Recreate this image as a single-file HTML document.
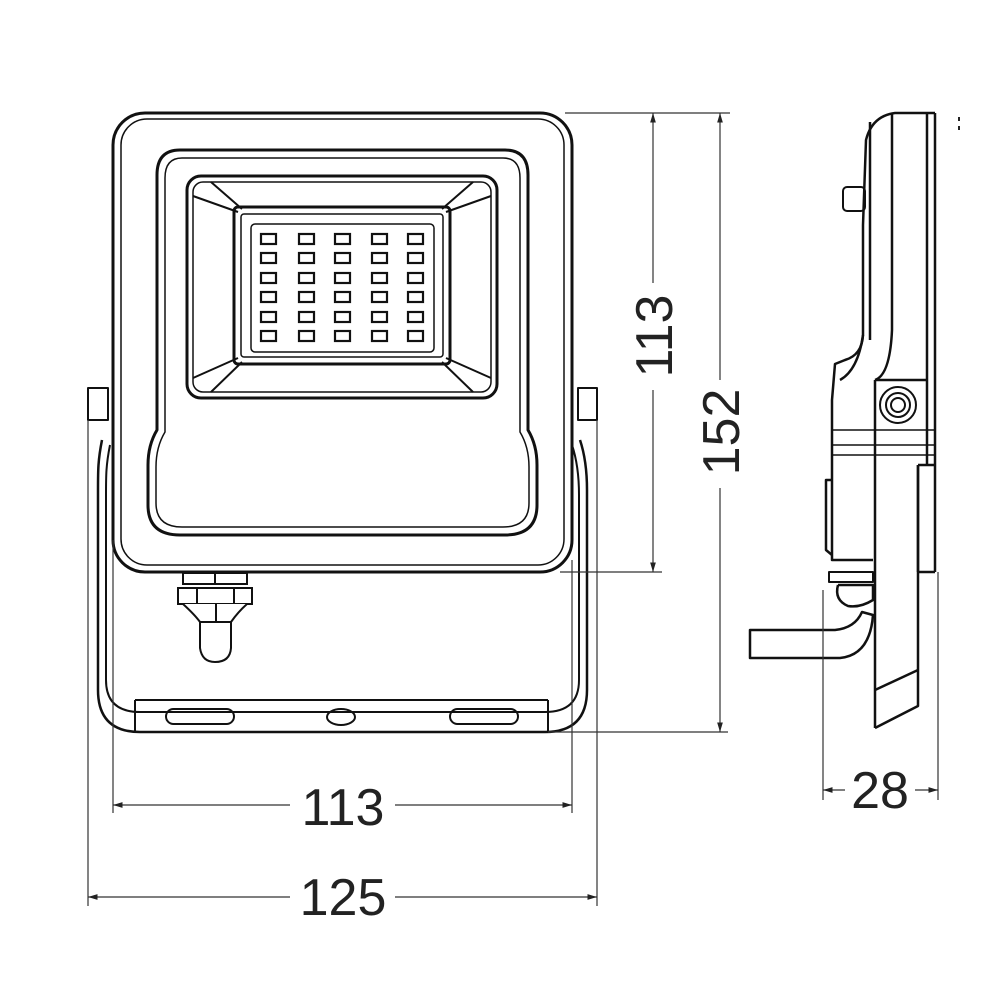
<!DOCTYPE html>
<html><head><meta charset="utf-8"><style>
html,body{margin:0;padding:0;background:#fff}
svg{display:block}
text{font-family:"Liberation Sans",sans-serif;fill:#222}
</style></head><body>
<svg width="1000" height="1000" viewBox="0 0 1000 1000" xmlns="http://www.w3.org/2000/svg">
<defs>
<marker id="a" viewBox="0 0 10 10" refX="10" refY="5" markerWidth="8" markerHeight="8" orient="auto-start-reverse"><path d="M0,2 L10,5 L0,8z" fill="#222"/></marker>
</defs>
<g fill="none" stroke="#111" stroke-width="3" stroke-linejoin="round">
<!-- bracket -->
<path d="M102,440 C98,460 98,470 98,490 L98,690 Q98,732 140,732 L545,732 Q587,732 587,690 L587,490 C587,470 585,455 580,440" stroke-width="2.5"/>
<path d="M110,445 C106,465 106,475 106,495 L106,680 Q106,712 140,712 L545,712 Q579,712 579,680 L579,495 C579,475 577,460 572,445" stroke-width="2"/>
<line x1="135" y1="700" x2="548" y2="700" stroke-width="2"/>
<line x1="135" y1="700" x2="135" y2="732" stroke-width="2"/>
<line x1="548" y1="700" x2="548" y2="732" stroke-width="2"/>
<rect x="166" y="709" width="68" height="15" rx="7.5" stroke-width="2"/>
<rect x="450" y="709" width="68" height="15" rx="7.5" stroke-width="2"/>
<ellipse cx="341" cy="717" rx="14" ry="8" stroke-width="2"/>
<rect x="88" y="388" width="20" height="32" stroke-width="2"/>
<rect x="578" y="388" width="19" height="32" stroke-width="2"/>
<!-- housing -->
<rect x="113" y="113" width="459" height="459" rx="32"/>
<rect x="121" y="119" width="443" height="446" rx="26" stroke-width="1.5"/>
<path d="M180,150 L505,150 Q528,150 528,175 L528,430 Q537,445 537,465 L537,505 Q537,535 505,535 L180,535 Q148,535 148,505 L148,465 Q148,445 157,430 L157,175 Q157,150 180,150Z"/>
<path d="M182,158 L503,158 Q520,158 520,178 L520,432 Q529,447 529,467 L529,503 Q529,527 503,527 L182,527 Q156,527 156,503 L156,467 Q156,447 165,432 L165,178 Q165,158 182,158Z" stroke-width="1.5"/>
<!-- lens -->
<rect x="187" y="176" width="310" height="222" rx="14"/>
<rect x="193" y="182" width="298" height="210" rx="10" stroke-width="1.5"/>
<rect x="234" y="207" width="216" height="157" rx="4"/>
<rect x="241" y="214" width="202" height="143" rx="3" stroke-width="1.5"/>
<rect x="251" y="224" width="183" height="128" rx="4" stroke-width="1.5"/>
<line x1="193" y1="196" x2="238" y2="212" stroke-width="2"/>
<line x1="211" y1="182" x2="242" y2="209" stroke-width="2"/>
<line x1="491" y1="196" x2="446" y2="212" stroke-width="2"/>
<line x1="473" y1="182" x2="442" y2="209" stroke-width="2"/>
<line x1="193" y1="378" x2="238" y2="358" stroke-width="2"/>
<line x1="211" y1="392" x2="242" y2="362" stroke-width="2"/>
<line x1="491" y1="378" x2="446" y2="358" stroke-width="2"/>
<line x1="473" y1="392" x2="442" y2="362" stroke-width="2"/>
</g>
<g fill="none" stroke="#111" stroke-width="2.2">
<g id="r">
<rect x="261" y="234" width="15" height="10"/><rect x="299" y="234" width="15" height="10"/><rect x="335" y="234" width="15" height="10"/><rect x="372" y="234" width="15" height="10"/><rect x="408" y="234" width="15" height="10"/>
</g>
<use href="#r" y="19"/><use href="#r" y="39"/><use href="#r" y="58"/><use href="#r" y="78"/><use href="#r" y="97"/>
</g>
<!-- gland -->
<g fill="#fff" stroke="#111" stroke-width="2">
<rect x="183" y="573" width="64" height="11"/>
<line x1="215" y1="573" x2="215" y2="584"/>
<rect x="178" y="588" width="74" height="16"/>
<line x1="197" y1="588" x2="197" y2="604"/><line x1="234" y1="588" x2="234" y2="604"/>
<path d="M183,604 Q195,615 200,622 L200,648 Q202,662 215,662 Q230,662 231,648 L231,622 Q238,612 247,604"/>
<line x1="216" y1="604" x2="216" y2="622"/>
<line x1="200" y1="622" x2="231" y2="622"/>
</g>
<!-- side view -->
<g fill="none" stroke="#111" stroke-width="2.5" stroke-linejoin="round">
<path d="M935,113 L895,113 Q872,116 866,140 L863,225 L863,335 Q862,355 845,360 L835,364 L832,400 L832,560 L873,560"/>
<line x1="935" y1="113" x2="935" y2="572"/>
<line x1="927" y1="113" x2="927" y2="465"/>
<line x1="892" y1="113" x2="892" y2="330"/>
<line x1="870" y1="122" x2="870" y2="340"/>
<path d="M892,330 Q890,375 875,380"/>
<path d="M863,335 Q858,370 840,380"/>
<line x1="875" y1="380" x2="927" y2="380"/>
<rect x="843" y="187" width="22" height="24" rx="4" stroke-width="2"/>
<circle cx="898" cy="405" r="18" stroke-width="2"/>
<circle cx="898" cy="405" r="12" stroke-width="2"/>
<circle cx="898" cy="405" r="7" stroke-width="2"/>
<line x1="875" y1="380" x2="875" y2="728"/>
<path d="M875,728 L918,706 L918,465"/>
<line x1="875" y1="690" x2="918" y2="670"/>
<line x1="832" y1="430" x2="935" y2="430" stroke-width="1.5"/>
<line x1="832" y1="445" x2="935" y2="445" stroke-width="1.5"/>
<line x1="832" y1="455" x2="935" y2="455" stroke-width="1.5"/>
<line x1="918" y1="465" x2="935" y2="465"/>
<line x1="918" y1="465" x2="918" y2="572"/>
<line x1="918" y1="572" x2="935" y2="572"/>
<path d="M832,480 L826,480 L826,550 L832,555"/>
<rect x="829" y="572" width="44" height="10" stroke-width="2"/>
<path d="M838,585 L873,585 L873,600 Q860,608 848,606 Q834,600 838,585"/>
<path d="M750,630 L835,630 Q855,628 862,612 L873,615 Q870,655 840,658 L750,658 Z" fill="#fff"/>
</g>
<rect x="958" y="117" width="2" height="4" fill="#222"/><rect x="958" y="126" width="2" height="4" fill="#222"/>
<!-- dimension lines -->
<g stroke="#333" stroke-width="1.2" fill="none">
<line x1="565" y1="113" x2="730" y2="113"/>
<line x1="560" y1="572" x2="662" y2="572"/>
<line x1="548" y1="732" x2="728" y2="732"/>
<line x1="88" y1="420" x2="88" y2="906"/>
<line x1="113" y1="540" x2="113" y2="813"/>
<line x1="572" y1="560" x2="572" y2="813"/>
<line x1="597" y1="420" x2="597" y2="906"/>
<line x1="823" y1="590" x2="823" y2="800"/>
<line x1="938" y1="572" x2="938" y2="800"/>
<line x1="653" y1="113" x2="653" y2="283" marker-start="url(#a)"/>
<line x1="653" y1="390" x2="653" y2="572" marker-end="url(#a)"/>
<line x1="720" y1="113" x2="720" y2="380" marker-start="url(#a)"/>
<line x1="720" y1="488" x2="720" y2="732" marker-end="url(#a)"/>
<line x1="113" y1="805" x2="290" y2="805" marker-start="url(#a)"/>
<line x1="395" y1="805" x2="572" y2="805" marker-end="url(#a)"/>
<line x1="88" y1="897" x2="290" y2="897" marker-start="url(#a)"/>
<line x1="395" y1="897" x2="597" y2="897" marker-end="url(#a)"/>
<line x1="823" y1="790" x2="845" y2="790" marker-start="url(#a)"/>
<line x1="915" y1="790" x2="938" y2="790" marker-end="url(#a)"/>
</g>
<g font-size="52">
<text x="343" y="825" text-anchor="middle">113</text>
<text x="343" y="915" text-anchor="middle">125</text>
<text x="880" y="808" text-anchor="middle">28</text>
<text transform="translate(672,336) rotate(-90)" text-anchor="middle">113</text>
<text transform="translate(739,432) rotate(-90)" text-anchor="middle">152</text>
</g>
</svg>
</body></html>
